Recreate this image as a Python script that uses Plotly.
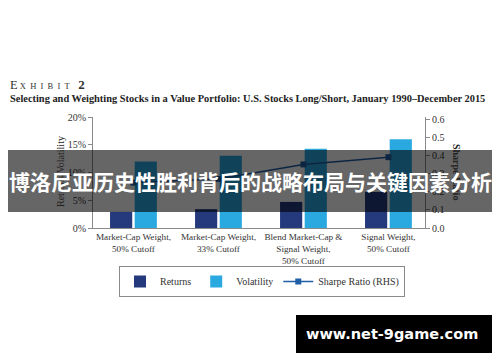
import plotly.graph_objects as go

categories = ["Market-Cap Weight,<br>50% Cutoff", "Market-Cap Weight,<br>33% Cutoff",
              "Blend Market-Cap &<br>Signal Weight,<br>50% Cutoff", "Signal Weight,<br>50% Cutoff"]
returns = [2.9, 3.4, 4.7, 6.5]
volatility = [12.0, 13.0, 14.3, 16.0]
sharpe = [0.25, 0.27, 0.35, 0.39]
left_ticks = [0, 5, 10, 15, 20]
left_tick_labels = ["0%", "5%", "10%", "15%", "20%"]
right_ticks = [0.0, 0.1, 0.2, 0.3, 0.4, 0.5, 0.6]
right_tick_labels = ["0.0", "0.1", "0.2", "0.3", "0.4", "0.5", "0.6"]

SERIF = "Liberation Serif, Times New Roman, serif"
TXT = "#333333"
# page has an 8px body margin: figure is drawn 8px right/down
OFF = 8
W, H = 500 - OFF, 362 - OFF
L, T = 93 - OFF, 117 - OFF
R, B = 500 - 425, 362 - 228
PW = W - L - R
PH = H - T - B

def px(x):  # reference pixel -> paper x
    return (x - OFF - L) / PW

def py(y):  # reference pixel -> paper y
    return (H - B - (y - OFF)) / PH

fig = go.Figure()
fig.add_trace(go.Bar(x=categories, y=returns, name="Returns", marker_color="#243a7d",
                     marker_line_width=0))
fig.add_trace(go.Bar(x=categories, y=volatility, name="Volatility", marker_color="#2aa9e0",
                     marker_line_width=0))
fig.add_trace(go.Scatter(x=categories, y=sharpe, name="Sharpe Ratio (RHS)", yaxis="y2",
                         mode="lines+markers", line=dict(color="#1f5fa6", width=1.5),
                         marker=dict(symbol="square", size=6, color="#1f5fa6")))

fig.update_layout(
    width=W, height=H,
    margin=dict(l=L, r=R, t=T, b=B, pad=0, autoexpand=False),
    paper_bgcolor="white", plot_bgcolor="white",
    barmode="group", bargap=0.42, bargroupgap=0.1,
    font=dict(family=SERIF, size=10, color=TXT),
    xaxis=dict(range=[-0.476, 3.43], showline=True, linecolor="#8a8a8a", linewidth=1,
               ticks="", showgrid=False, tickangle=0, automargin=False,
               tickfont=dict(family=SERIF, size=9.2, color=TXT)),
    yaxis=dict(range=[0, 20], tickvals=left_ticks, ticktext=left_tick_labels,
               showline=True, linecolor="#8a8a8a", linewidth=1, ticks="outside",
               ticklen=4, tickcolor="#8a8a8a", showgrid=False, zeroline=False, automargin=False,
               tickfont=dict(family=SERIF, size=10, color=TXT)),
    yaxis2=dict(range=[0, 0.611], tickvals=right_ticks, ticktext=right_tick_labels,
                overlaying="y", side="right", showline=True, linecolor="#8a8a8a",
                linewidth=1, ticks="outside", ticklen=4, tickcolor="#8a8a8a",
                showgrid=False, zeroline=False, automargin=False,
                tickfont=dict(family=SERIF, size=10, color=TXT)),
    legend=dict(orientation="h", x=px(262), xanchor="center", y=py(266), yanchor="top",
                bordercolor="#8a8a8a", borderwidth=1, font=dict(family=SERIF, size=10, color=TXT),
                itemwidth=30, tracegroupgap=0, traceorder="normal"),
    showlegend=True,
)

def ann(**kw):
    d = dict(xref="paper", yref="paper", showarrow=False)
    d.update(kw)
    return d

NB = "\u00a0"
exhibit = ('<span style="font-size:12.5px">E</span><span style="font-size:8.5px">'
           + NB + "X" + NB * 2 + "H" + NB * 2 + "I" + NB * 2 + "B" + NB * 2 + "I" + NB * 2 + "T"
           + NB * 4 + '</span><b><span style="font-size:13px">2</span></b>')

annotations = [
    ann(x=px(60), y=py(172), text="Returns/Volatility", textangle=-90,
        font=dict(family=SERIF, size=10, color="#222"), xanchor="center", yanchor="middle"),
    ann(x=px(457), y=py(172), text="<b>Sharpe Ratio</b>", textangle=90,
        font=dict(family=SERIF, size=10, color="#222"), xanchor="center", yanchor="middle"),
    ann(x=px(8), y=py(84), xanchor="left", yanchor="middle", text=exhibit,
        font=dict(family=SERIF, size=12, color="#333")),
    ann(x=px(8), y=py(98.5), xanchor="left", yanchor="middle",
        text="<b>Selecting and Weighting Stocks in a Value Portfolio: U.S. Stocks Long/Short, January 1990\u2013December 2015</b>",
        font=dict(family=SERIF, size=10.4, color="#222")),
    ann(x=px(250), y=py(181), xanchor="center", yanchor="middle",
        text="<b>博洛尼亚历史性胜利背后的战略布局与关键因素分析</b>",
        font=dict(family="Noto Sans CJK SC", size=21, color="white")),
    ann(x=px(392), y=py(334), xanchor="center", yanchor="middle",
        text="<b>www.net-9game.com</b>",
        font=dict(family="DejaVu Sans", size=14.5, color="white")),
]
fig.update_layout(annotations=annotations)

fig.update_layout(shapes=[
    dict(type="rect", xref="paper", yref="paper", x0=px(8), x1=px(492), y0=py(212), y1=py(150),
         fillcolor="rgba(0,0,0,0.6)", line_width=0, layer="above"),
    dict(type="rect", xref="paper", yref="paper", x0=px(296), x1=px(492), y0=py(353), y1=py(315),
         fillcolor="black", line_width=0, layer="above"),
])

fig.write_html("out.html")
